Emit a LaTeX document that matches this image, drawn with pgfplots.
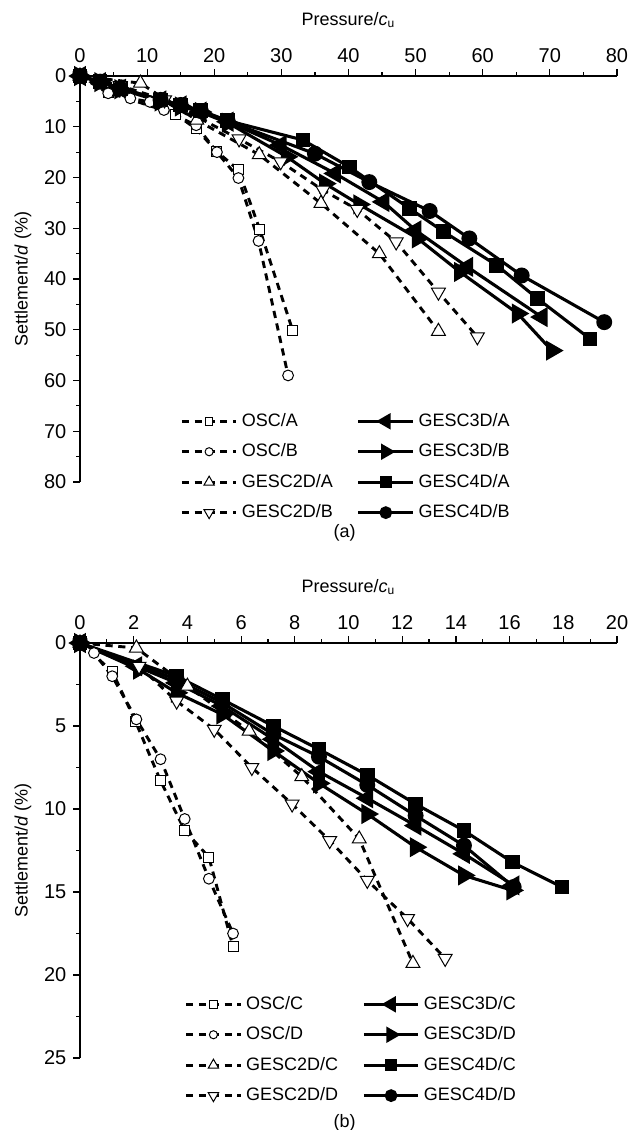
\documentclass[border=0pt]{standalone}
\usepackage{fontspec}
\setmainfont{Liberation Sans}
\usepackage{pgfplots}
\pgfplotsset{compat=1.18}

\pgfplotsset{
  base/.style={
    scale only axis, width=268.5pt,
    axis x line=top, axis y line=left,
    axis line style={line width=0.6pt, -},
    y dir=reverse,
    tick align=outside,
    major tick length=3.3pt, minor tick length=2pt,
    every tick/.style={black, line width=0.6pt},
    minor tick num=1,
    clip=false,
    /pgf/number format/assume math mode=true,
    tick label style={font=\fontsize{10}{12}\selectfont},
    label style={font=\fontsize{9}{11}\selectfont},
    xlabel style={at={(axis description cs:0.5,1)}, anchor=center, yshift=28pt},
    ylabel style={at={(axis description cs:0,0.5)}, anchor=center, yshift=28.5pt},
    xlabel={Pressure/\textit{c}\textsubscript{u}},
    ylabel={Settlement/\textit{d} (\%)},
    legend columns=2,
    legend cell align=left,
    legend style={draw=none, fill=none, anchor=north west,
      font=\fontsize{9}{11}\selectfont, row sep=3.2pt,
      /tikz/every even column/.append style={column sep=10pt}},
    legend image code/.code={\draw[mark repeat=2,mark phase=2,#1,
      every mark/.append style={scale=0.75}]
      plot coordinates {(0cm,0cm) (0.48cm,0cm) (0.96cm,0cm)};},
  },
  osc/.style={black, line width=1.45pt, dash pattern=on 3.6pt off 2.8pt},
  gesc/.style={black, line width=1.55pt},
  msq/.style={mark=square*, mark size=2.5pt, mark options={solid, fill=white, line width=0.5pt}},
  mci/.style={mark=*, mark size=2.7pt, mark options={solid, fill=white, line width=0.5pt}},
  mup/.style={mark=triangle*, mark size=4pt, mark options={solid, fill=white, line width=0.5pt}},
  mdn/.style={mark=triangle*, mark size=4pt, mark options={solid, fill=white, line width=0.5pt, rotate=180}},
  fsq/.style={mark=square*, mark size=2.9pt, mark options={solid, fill=black}},
  fci/.style={mark=*, mark size=3.2pt, mark options={solid, fill=black}},
  flf/.style={mark=triangle*, mark size=4.3pt, mark options={solid, fill=black, rotate=90}},
  frt/.style={mark=triangle*, mark size=4.3pt, mark options={solid, fill=black, rotate=-90}},
}

\begin{document}
\begin{tikzpicture}
\path[use as bounding box] (0,0) rectangle (314.5pt,-565pt);

% (a)
\begin{axis}[base, at={(40pt,-241pt)}, anchor=south west, height=203pt,
  xmin=0, xmax=80, ymin=0, ymax=80,
  xtick={0,10,...,80}, ytick={0,10,...,80},
  legend style={at={(axis description cs:0.175,0.19)}}]
\addplot[osc, msq] coordinates {(0,0)(4.2,3.2)(14.2,7.5)(17.3,10.4)(20.4,14.9)(23.6,18.5)(26.8,30.3)(31.7,50.2)};
\addlegendentry{OSC/A}
\addplot[gesc, flf] coordinates {(0,0)(3,1.2)(6,2.5)(12,4.8)(15,5.8)(18,7)(22,9)(29.9,13.6)(38,19.2)(45.2,24.8)(50,30.4)(57.7,37.6)(68.8,47.5)};
\addlegendentry{GESC3D/A}
\addplot[osc, mci] coordinates {(0,0)(4.2,3.4)(7.5,4.4)(10.4,5.1)(12.5,6.7)(17.3,9.7)(20.4,15)(23.6,20.1)(26.6,32.5)(31,59)};
\addlegendentry{OSC/B}
\addplot[gesc, frt] coordinates {(0,0)(3,1.2)(6,2.6)(12,5)(15,6)(18,7.1)(22,9.2)(30.8,15.9)(36.5,21.2)(41.6,25.3)(50.3,32)(56.6,38.6)(65.2,46.8)(70.3,54.1)};
\addlegendentry{GESC3D/B}
\addplot[osc, mup] coordinates {(0,0)(9,1.4)(17.4,8.7)(26.7,15.5)(35.9,25.1)(44.6,35)(53.4,50.3)};
\addlegendentry{GESC2D/A}
\addplot[gesc, fsq] coordinates {(0,0)(3,1.1)(6,2.4)(12,4.7)(15,5.7)(18,6.8)(22,8.8)(33.2,12.6)(40.1,17.9)(49.1,26.1)(54.2,30.7)(62.1,37.3)(68.2,43.9)(76,51.8)};
\addlegendentry{GESC4D/A}
\addplot[osc, mdn] coordinates {(0,0)(6,1.9)(12.6,4.7)(23.7,12.4)(29.9,16.9)(36.2,22.5)(41.3,26.3)(47.1,32.7)(53.4,42.6)(59.2,51.4)};
\addlegendentry{GESC2D/B}
\addplot[gesc, fci] coordinates {(0,0)(3,1.1)(6,2.4)(12,4.7)(15,5.7)(18,6.9)(22,8.9)(35,15.3)(43.1,20.9)(52.1,26.6)(58,32)(65.8,39.3)(78.1,48.5)};
\addlegendentry{GESC4D/B}
\node[font=\fontsize{9}{11}\selectfont] at (axis description cs:0.493,-0.126) {(a)};
\end{axis}

% (b)
\begin{axis}[base, at={(40pt,-529pt)}, anchor=south west, height=207.5pt,
  xmin=0, xmax=20, ymin=0, ymax=25,
  xtick={0,2,...,20}, ytick={0,5,...,25},
  legend style={at={(axis description cs:0.183,0.169)}}]
\addplot[osc, msq] coordinates {(0,0)(1.2,1.7)(2.06,4.7)(3.0,8.3)(3.9,11.3)(4.8,12.9)(5.7,18.3)};
\addlegendentry{OSC/C}
\addplot[gesc, flf] coordinates {(0,0)(2.1,1.4)(3.6,2.4)(5.3,3.8)(7.2,5.8)(8.9,7.75)(10.7,9.35)(12.5,11.0)(14.3,12.7)(16.15,14.6)};
\addlegendentry{GESC3D/C}
\addplot[osc, mci] coordinates {(0,0)(0.52,0.6)(1.2,2.0)(2.1,4.6)(3.0,7.0)(3.9,10.6)(4.8,14.2)(5.7,17.5)};
\addlegendentry{OSC/D}
\addplot[gesc, frt] coordinates {(0,0)(2.2,1.6)(3.6,3.0)(5.3,4.3)(7.2,6.5)(8.9,8.45)(10.7,10.3)(12.5,12.3)(14.3,14.0)(16.1,14.9)};
\addlegendentry{GESC3D/D}
\addplot[osc, mup] coordinates {(0,0)(2.1,0.3)(4.0,2.6)(6.3,5.3)(8.26,8.05)(10.4,11.8)(12.4,19.3)};
\addlegendentry{GESC2D/C}
\addplot[gesc, fsq] coordinates {(0,0)(3.6,2.0)(5.3,3.4)(7.2,5.0)(8.9,6.4)(10.7,7.95)(12.5,9.7)(14.3,11.3)(16.1,13.2)(17.95,14.7)};
\addlegendentry{GESC4D/C}
\addplot[osc, mdn] coordinates {(0,0)(2.2,1.4)(3.6,3.5)(5.0,5.2)(6.4,7.5)(7.9,9.7)(9.3,11.9)(10.7,14.3)(12.2,16.6)(13.6,19.0)};
\addlegendentry{GESC2D/D}
\addplot[gesc, fci] coordinates {(0,0)(3.6,2.2)(5.3,3.6)(7.2,5.5)(8.9,6.85)(10.7,8.55)(12.5,10.4)(14.3,12.2)(16.15,14.7)};
\addlegendentry{GESC4D/D}
\node[font=\fontsize{9}{11}\selectfont] at (axis description cs:0.493,-0.157) {(b)};
\end{axis}
\end{tikzpicture}
\end{document}
